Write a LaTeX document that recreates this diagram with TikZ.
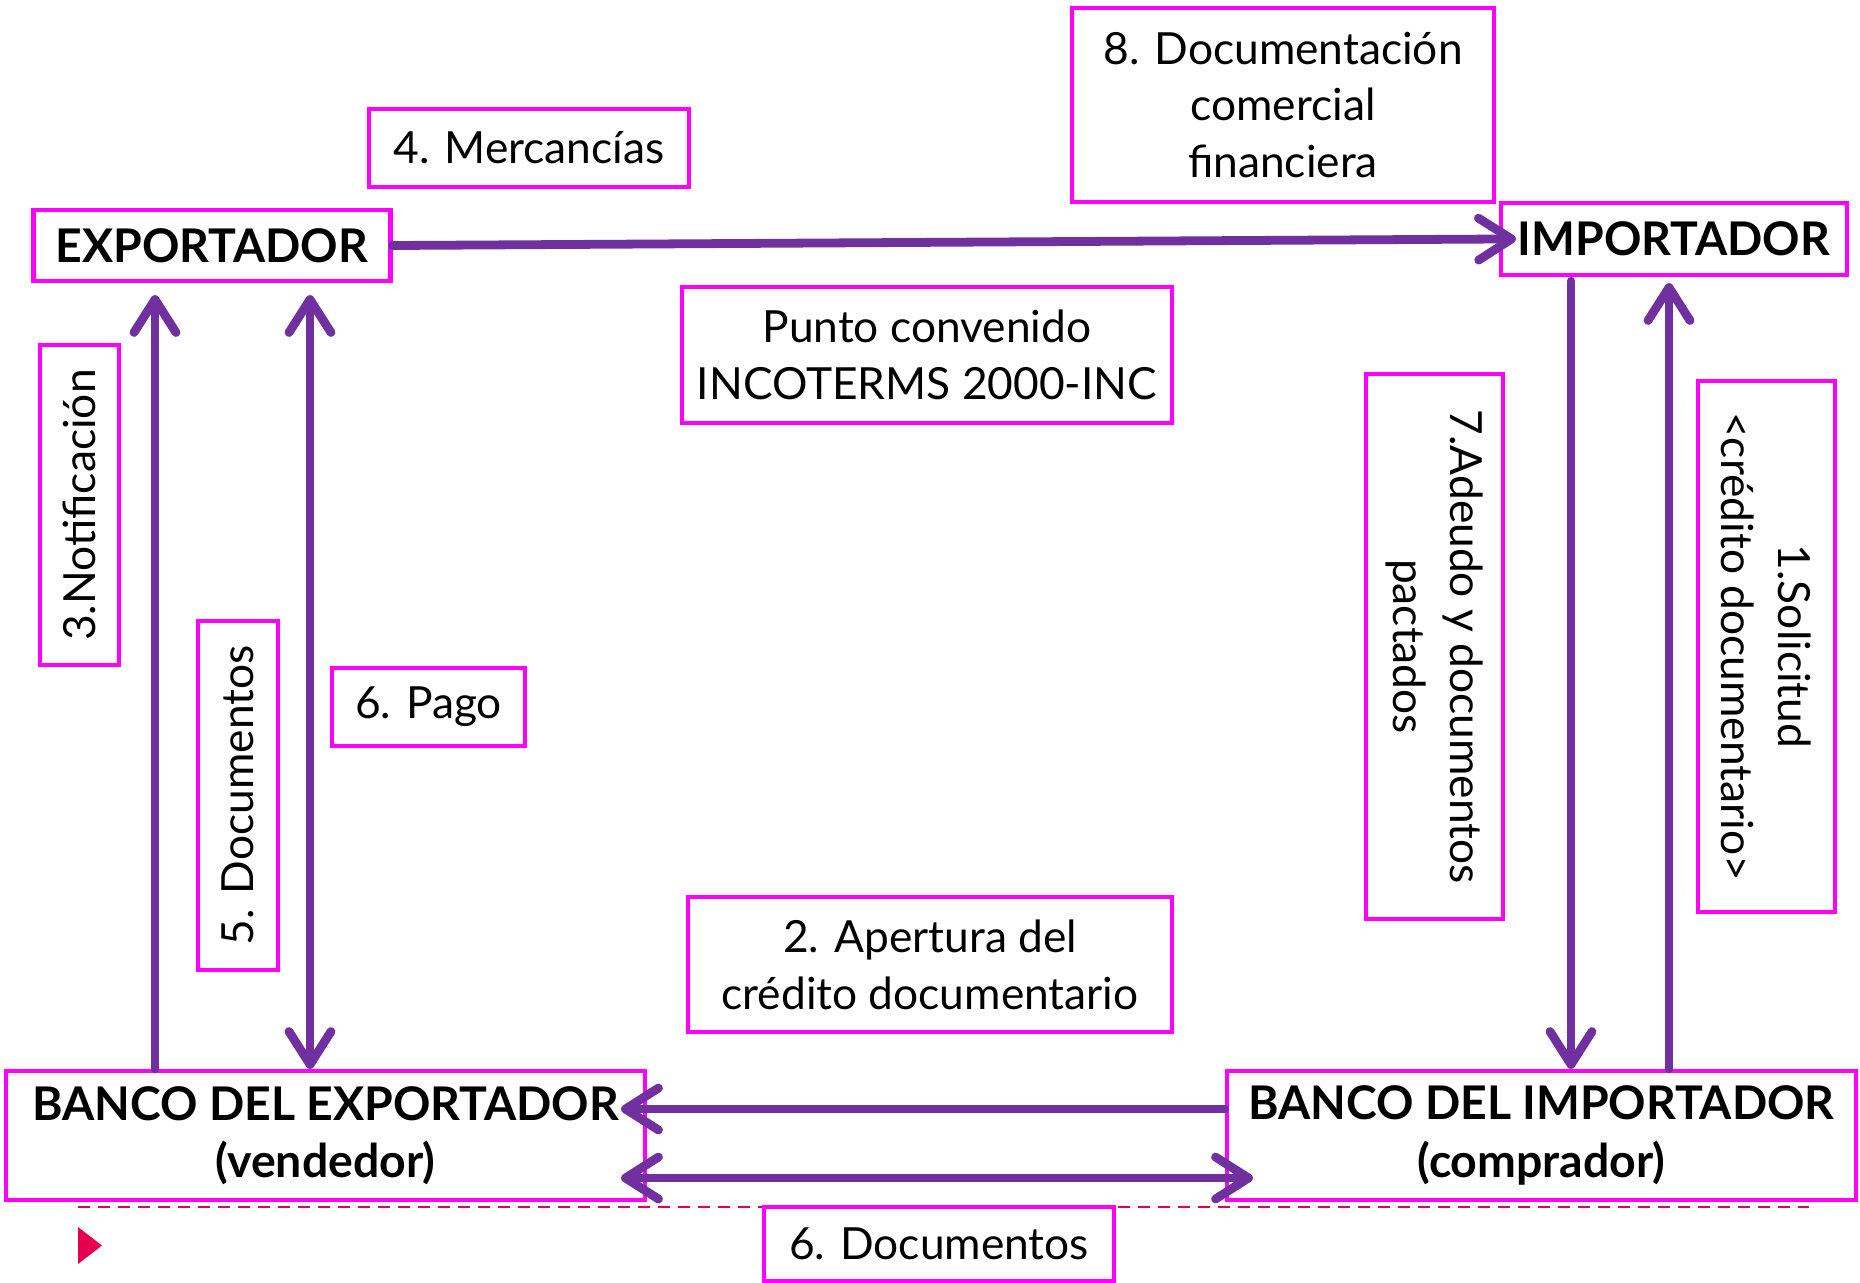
\documentclass[tikz,border=0pt]{standalone}
\usepackage{fontspec}
\setmainfont{Lato}
\usetikzlibrary{arrows.meta}
\definecolor{flecha}{HTML}{7030A0}
\definecolor{marco}{HTML}{FF00FF}
\definecolor{guia}{HTML}{E4004F}
\tikzset{
  caja/.style={draw=marco, line width=1.2pt, fill=white, align=center, inner sep=0pt,
    font=\fontsize{12.6}{16.2}\selectfont},
  actor/.style={caja, font=\fontsize{13.2}{16.4}\selectfont\bfseries},
  flujo/.style={draw=flecha, line width=2.5pt, line cap=round, -{Straight Barb[length=3.3mm,width=4.2mm,round]}},
  doble/.style={flujo, {Straight Barb[length=3.3mm,width=4.2mm,round]}-{Straight Barb[length=3.3mm,width=4.2mm,round]}},
}
\begin{document}
\begin{tikzpicture}[x=0.1mm, y=-0.1mm]
\useasboundingbox (0,0) rectangle (1860,1282);
% guia inferior
\draw[guia, line width=0.7pt, dash pattern=on 1.2mm off 0.8mm] (78,1207) -- (1809,1207);
\fill[guia] (78,1227) -- (102,1245.5) -- (78,1264) -- cycle;
% actores
\node[actor, minimum width=35.7mm, minimum height=7.1mm] (exp) at (212,245.5) {EXPORTADOR};
\node[actor, minimum width=34.6mm, minimum height=7.2mm] (imp) at (1674,239) {IMPORTADOR};
\node[actor, minimum width=63.9mm, minimum height=12.9mm] (bexp) at (325.5,1135.5) {BANCO DEL EXPORTADOR\\(vendedor)};
\node[actor, minimum width=62.9mm, minimum height=12.9mm] (bimp) at (1541.5,1135.5) {BANCO DEL IMPORTADOR\\(comprador)};
% etiquetas
\node[caja, minimum width=42.2mm, minimum height=19.4mm] (doc8) at (1283,105) {8. Documentación\\comercial\\financiera};
\node[caja, minimum width=32mm, minimum height=7.8mm] (merc) at (529,148) {4. Mercancías};
\node[caja, minimum width=49mm, minimum height=13.6mm] (punto) at (927,355) {Punto convenido\\INCOTERMS 2000-INC};
\node[caja, rotate=90, minimum width=32mm, minimum height=7.9mm] (notif) at (79.5,505) {3.Notificación};
\node[caja, rotate=90, minimum width=34.9mm, minimum height=8mm] (doc5) at (238,795.5) {5. Documentos};
\node[caja, minimum width=19.3mm, minimum height=7.8mm] (pago) at (428.5,707) {6. Pago};
\node[caja, rotate=-90, minimum width=54.5mm, minimum height=13.7mm] (adeudo) at (1434.5,646.5) {7.Adeudo y documentos\\pactados};
\node[caja, rotate=-90, minimum width=53.1mm, minimum height=13.7mm] (solic) at (1766.5,646.5) {1.Solicitud\\<crédito documentario>};
\node[caja, minimum width=48.4mm, minimum height=13.5mm] (apert) at (930,964.5) {2. Apertura del\\crédito documentario};
\node[caja, minimum width=35mm, minimum height=7.4mm] (doc6) at (939,1244) {6. Documentos};
% flujos
\draw[flujo, shorten >=-1.7mm] (exp.east) -- (imp.west);
\draw[flujo, shorten >=1.2mm] (bexp.north -| 155,0) -- (exp.south -| 155,0);
\draw[doble, shorten <=1.2mm] (exp.south -| 310,0) -- (bexp.north -| 310,0);
\draw[flujo, shorten <=0.4mm] (imp.south -| 1571,0) -- (bimp.north -| 1571,0);
\draw[flujo, shorten >=0.6mm] (bimp.north -| 1669,0) -- (imp.south -| 1669,0);
\draw[flujo, shorten >=-2.6mm] (bimp.west |- 0,1109) -- (bexp.east |- 0,1109);
\draw[doble, shorten <=-2.6mm, shorten >=-2.8mm] (bexp.east |- 0,1178) -- (bimp.west |- 0,1178);
\end{tikzpicture}
\end{document}
